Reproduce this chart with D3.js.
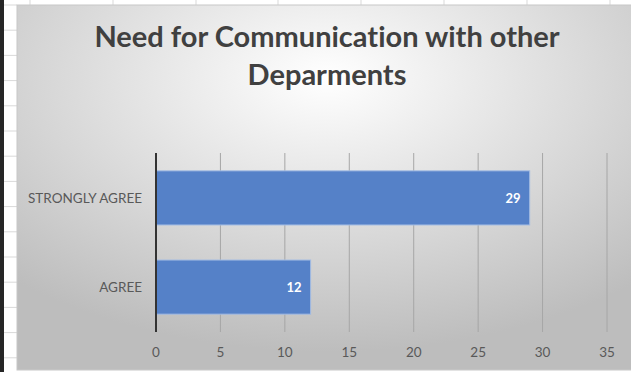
<!DOCTYPE html>
<html>
<head>
<meta charset="utf-8">
<script src="https://d3js.org/d3.v7.min.js"></script>
<style>
  body { margin: 0; background: #fff; }
  svg { display: block; }
  text { font-variant-ligatures: none; }
</style>
</head>
<body>
<svg id="chart" width="631" height="372"></svg>
<script>
    var categories = ["STRONGLY AGREE", "AGREE"];
    var values = [29, 12];
    var ticks = [0, 5, 10, 15, 20, 25, 30, 35];
    var title = ["Need for Communication with other", "Deparments"];

    var svg = d3.select("#chart");
    var defs = svg.append("defs");
    var grad = defs.append("radialGradient")
        .attr("id", "bg")
        .attr("cx", "50%").attr("cy", "20%")
        .attr("r", "75%");
    grad.append("stop").attr("offset", "0%").attr("stop-color", "#ffffff");
    grad.append("stop").attr("offset", "100%").attr("stop-color", "#bdbdbd");

    // spreadsheet bits round the chart
    svg.append("rect").attr("x", 0).attr("y", 0).attr("width", 4).attr("height", 372).attr("fill", "#262626");
    svg.selectAll(".row").data(d3.range(5, 372, 25.2)).enter().append("line")
        .attr("x1", 4).attr("x2", 17).attr("y1", d => d).attr("y2", d => d)
        .style("stroke", "#d9d9d9");
    svg.selectAll(".col").data([30, 113, 196, 278, 361, 444, 527, 610]).enter().append("line")
        .attr("x1", d => d).attr("x2", d => d).attr("y1", 0).attr("y2", 5)
        .style("stroke", "#d9d9d9");

    svg.append("rect")
        .attr("x", 17).attr("y", 5).attr("width", 620).attr("height", 365)
        .attr("fill", "url(#bg)")
        .style("stroke", "#c8c8c8");

    var x = d3.scaleLinear().domain([0, 35]).range([156, 607]);
    var y = d3.scaleBand().domain(categories).range([153, 332]).paddingInner(0.393).paddingOuter(0.2);

    svg.selectAll(".grid").data(ticks.slice(1)).enter().append("line")
        .attr("x1", d => x(d)).attr("x2", d => x(d))
        .attr("y1", 153).attr("y2", 332)
        .style("stroke", "#a6a6a6").style("stroke-width", 1);

    svg.selectAll(".bar").data(values).enter().append("rect")
        .attr("x", x(0))
        .attr("y", (d, i) => y(categories[i]))
        .attr("width", d => x(d) - x(0))
        .attr("height", y.bandwidth())
        .attr("fill", "#5581c8")
        .style("stroke", "#a3bce3").style("stroke-width", 1);

    svg.selectAll(".val").data(values).enter().append("text")
        .attr("x", d => x(d) - 9)
        .attr("y", (d, i) => y(categories[i]) + y.bandwidth() / 2 + 5)
        .attr("text-anchor", "end")
        .style("font-family", "Lato, sans-serif").style("font-weight", "bold")
        .style("font-size", "13px").style("fill", "#fff")
        .text(d => d);

    svg.append("line")
        .attr("x1", x(0)).attr("x2", x(0)).attr("y1", 153).attr("y2", 332)
        .style("stroke", "#333").style("stroke-width", 2);

    svg.selectAll(".cat").data(categories).enter().append("text")
        .attr("x", 142)
        .attr("y", d => y(d) + y.bandwidth() / 2 + 5)
        .attr("text-anchor", "end")
        .style("font-family", "Lato, sans-serif")
        .style("font-size", "13.5px").style("fill", "#595959")
        .text(d => d);

    svg.selectAll(".tick").data(ticks).enter().append("text")
        .attr("x", d => x(d)).attr("y", 357)
        .attr("text-anchor", "middle")
        .style("font-family", "Lato, sans-serif")
        .style("font-size", "13.5px").style("fill", "#595959")
        .text(d => d);

    svg.selectAll(".title").data(title).enter().append("text")
        .attr("x", 327).attr("y", (d, i) => 47 + i * 38)
        .attr("text-anchor", "middle")
        .style("font-family", "Lato, sans-serif").style("font-weight", "bold")
        .style("font-size", "29px").style("fill", "#404040")
        .text(d => d);
</script>
</body>
</html>
